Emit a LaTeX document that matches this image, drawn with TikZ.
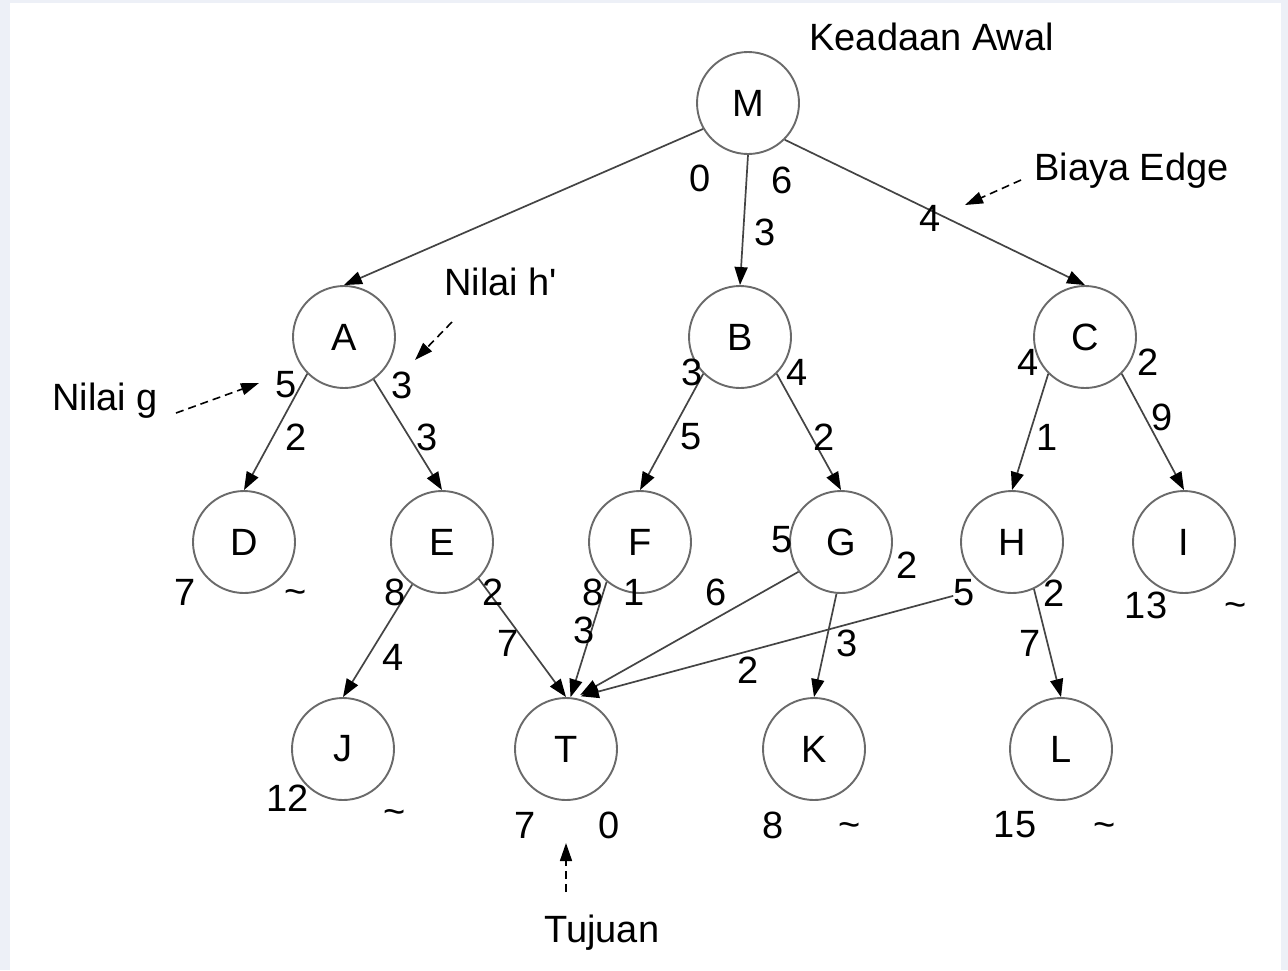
\documentclass[tikz,border=0pt]{standalone}
\usepackage{fontspec}
\setmainfont{Liberation Sans}
\usetikzlibrary{arrows.meta}
\definecolor{pagebg}{HTML}{EDF0F7}
\definecolor{ringgray}{HTML}{6A6A6A}
\definecolor{edgegray}{HTML}{444444}
\begin{document}
\begin{tikzpicture}[x=0.5pt,y=-0.5pt,
  font=\fontsize{19pt}{22pt}\selectfont,
  state/.style={circle,draw=ringgray,line width=0.95pt,minimum size=51pt,inner sep=0pt},
  num/.style={inner sep=0pt},
  note/.style={inner sep=0pt,anchor=base west},
  edge/.style={draw=edgegray,line width=0.85pt,-{Triangle[length=9pt,width=6.5pt,color=black]}},
  pointer/.style={draw=black,line width=0.8pt,dash pattern=on 4pt off 2.5pt,
    -{Triangle[length=9pt,width=6pt]}}]

% page background and white panel
\fill[pagebg] (0,0) rectangle (1288,970);
\fill[white] (10,3) rectangle (1281,970);

% states
\node[state] (M) at (748,103) {M};
\node[state] (A) at (344,337) {A};
\node[state] (B) at (740,337) {B};
\node[state] (C) at (1085,337) {C};
\node[state] (D) at (244,542) {D};
\node[state] (E) at (442,542) {E};
\node[state] (F) at (640,542) {F};
\node[state] (G) at (841,542) {G};
\node[state] (H) at (1012,542) {H};
\node[state] (I) at (1184,542) {I};
\node[state] (J) at (343,749) {J};
\node[state] (T) at (566,749) {T};
\node[state] (K) at (814,749) {K};
\node[state] (L) at (1061,749) {L};

% edges
\draw[edge] (M.210) -- (A.north);
\draw[edge] (M.south) -- (B.north);
\draw[edge] (M.315) -- (C.north);
\draw[edge] (A.225) -- (D.north);
\draw[edge] (A.305) -- (E.north);
\draw[edge] (B.225) -- (F.north);
\draw[edge] (B.315) -- (G.north);
\draw[edge] (C.225) -- (H.north);
\draw[edge] (C.315) -- (I.north);
\draw[edge] (E.235) -- (J.north);
\draw[edge] (E.315) -- (T.north);
\draw[edge] (F.230) -- (T.85);
\draw[edge,shorten >=3pt] (G.215) -- (T.80);
\draw[edge,shorten <=17pt,shorten >=3pt] (H.240) -- (T.80);
\draw[edge] (G.265) -- (K.north);
\draw[edge] (H.295) -- (L.north);

% g and h' values beside the states
\node[num] (gM) at (700,178) {0};
\node[num] (hM) at (782,180) {6};
\node[num] (gA) at (286,385) {5};
\node[num] (hA) at (402,385) {3};
\node[num] (gB) at (692,372) {3};
\node[num] (hB) at (797,372) {4};
\node[num] (gC) at (1028,362) {4};
\node[num] (hC) at (1148,362) {2};
\node[num] (gD) at (185,592) {7};
\node[num] (hD) at (296,597) {\textasciitilde};
\node[num] (gE) at (395,592) {8};
\node[num] (hE) at (493,592) {2};
\node[num] (gF) at (593,592) {8};
\node[num] (hF) at (634,592) {1};
\node[num] (gG) at (782,540) {5};
\node[num] (hG) at (907,565) {2};
\node[num] (gH) at (964,593) {5};
\node[num] (hH) at (1054,593) {2};
\node[num] (gI) at (1146,605) {13};
\node[num] (hI) at (1236,610) {\textasciitilde};
\node[num] (gJ) at (288,798) {12};
\node[num] (hJ) at (395,817) {\textasciitilde};
\node[num] (gT) at (525,825) {7};
\node[num] (hT) at (609,825) {0};
\node[num] (gK) at (773,825) {8};
\node[num] (hK) at (850,830) {\textasciitilde};
\node[num] (gL) at (1015,825) {15};
\node[num] (hL) at (1105,830) {\textasciitilde};

% edge costs
\node[num] (cMB) at (765,232) {3};
\node[num] (cMC) at (930,218) {4};
\node[num] (cAD) at (296,437) {2};
\node[num] (cAE) at (427,437) {3};
\node[num] (cBF) at (691,437) {5};
\node[num] (cBG) at (824,437) {2};
\node[num] (cCH) at (1047,437) {1};
\node[num] (cCI) at (1162,417) {9};
\node[num] (cEJ) at (393,657) {4};
\node[num] (cET) at (508,643) {7};
\node[num] (cFT) at (584,630) {3};
\node[num] (cGT) at (716,592) {6};
\node[num] (cGK) at (847,643) {3};
\node[num] (cHT) at (748,670) {2};
\node[num] (cHL) at (1030,643) {7};

% annotations
\node[note] (start) at (809,50) {Keadaan Awal};
\node[note] (cost) at (1034,180) {Biaya Edge};
\node[note] (hval) at (444,295) {Nilai h\textquotesingle};
\node[note] (gval) at (52,410) {Nilai g};
\node[note] (goal) at (544,942) {Tujuan};

\coordinate (costtail) at (1021,180);
\coordinate (costtip) at (965,205);
\coordinate (htail) at (452,322);
\coordinate (htip) at (415,360);
\coordinate (gtail) at (176,413);
\coordinate (gtip) at (259,383);
\coordinate (goaltail) at (566,892);
\coordinate (goaltip) at (566,843);

\draw[pointer] (costtail) -- (costtip);
\draw[pointer] (htail) -- (htip);
\draw[pointer] (gtail) -- (gtip);
\draw[pointer] (goaltail) -- (goaltip);
\end{tikzpicture}
\end{document}
